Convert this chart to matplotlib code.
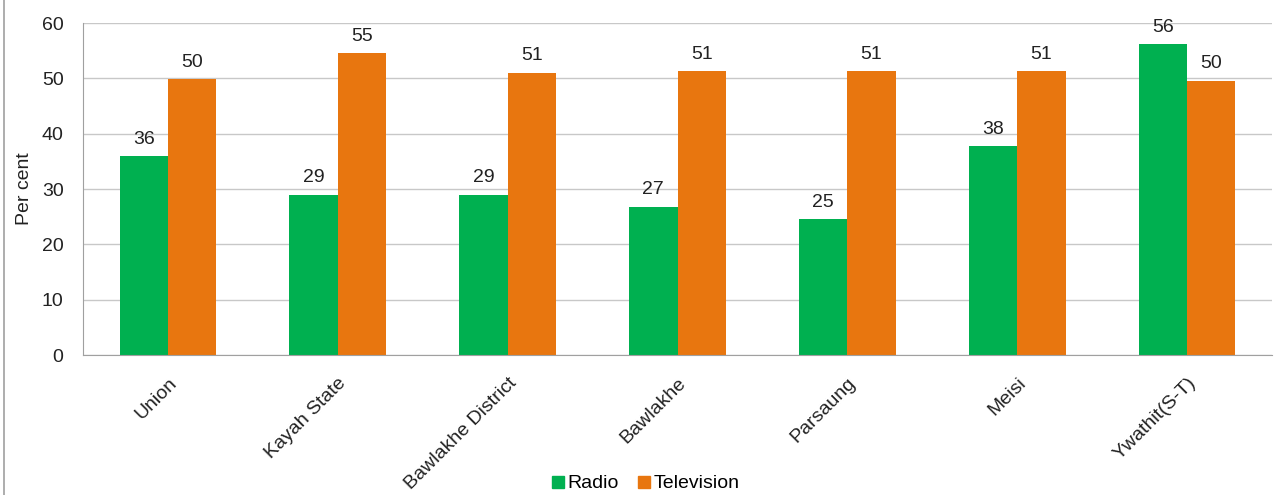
import matplotlib.pyplot as plt
import numpy as np
from matplotlib.lines import Line2D

plt.rcParams['font.family'] = ['Liberation Sans', 'DejaVu Sans']

categories = ['Union', 'Kayah State', 'Bawlakhe District', 'Bawlakhe',
              'Parsaung', 'Meisi', 'Ywathit(S-T)']
radio = [35.9, 29.0, 29.0, 26.8, 24.5, 37.7, 56.2]
television = [49.9, 54.5, 51.0, 51.3, 51.3, 51.3, 49.6]
radio_labels = ['36', '29', '29', '27', '25', '38', '56']
tv_labels = ['50', '55', '51', '51', '51', '51', '50']

green = '#00B050'
orange = '#E8760F'
fs = 14

fig = plt.figure(figsize=(12.77, 4.95), dpi=100)
ax = fig.add_axes([83 / 1277, 1 - 355 / 495, (1272 - 83) / 1277, (355 - 23) / 495])

x = np.arange(len(categories))
w = 0.285
b1 = ax.bar(x - w / 2, radio, w, color=green, label='Radio')
b2 = ax.bar(x + w / 2, television, w, color=orange, label='Television')

for rect, lab in zip(b1, radio_labels):
    ax.annotate(lab, (rect.get_x() + rect.get_width() / 2, rect.get_height()),
                xytext=(0, 6), textcoords='offset points', ha='center', va='bottom',
                fontsize=fs, color='#222222')
for rect, lab in zip(b2, tv_labels):
    ax.annotate(lab, (rect.get_x() + rect.get_width() / 2, rect.get_height()),
                xytext=(0, 6), textcoords='offset points', ha='center', va='bottom',
                fontsize=fs, color='#222222')

ax.set_xlim(-0.5, len(categories) - 0.5)
ax.set_ylim(0, 60)
ax.set_yticks(range(0, 61, 10))
ax.yaxis.grid(True, color='#C8C8C8', linewidth=1)
ax.set_axisbelow(True)
for s in ['top', 'right']:
    ax.spines[s].set_visible(False)
for s in ['left', 'bottom']:
    ax.spines[s].set_color('#A0A0A0')
ax.tick_params(axis='both', length=0, labelsize=fs, colors='#222222')
ax.tick_params(axis='y', pad=14)
ax.set_xticks(x)
ax.set_xticklabels(categories, rotation=45, ha='right', rotation_mode='anchor')
ax.tick_params(axis='x', pad=14)
ax.set_ylabel('Per cent', fontsize=fs, color='#222222', labelpad=6)

handles = [Line2D([], [], marker='s', linestyle='', color=green, markersize=8),
           Line2D([], [], marker='s', linestyle='', color=orange, markersize=8)]
fig.legend(handles, ['Radio', 'Television'], loc='lower center',
           bbox_to_anchor=(0.505, -0.03), ncol=2, frameon=False, fontsize=fs,
           handletextpad=0.1, columnspacing=0.9, handlelength=0.8)

fig.add_artist(Line2D([4 / 1277, 4 / 1277], [0, 1], transform=fig.transFigure,
                      color='#A0A0A0', linewidth=1.2))

fig.savefig('out.png', dpi=100)
